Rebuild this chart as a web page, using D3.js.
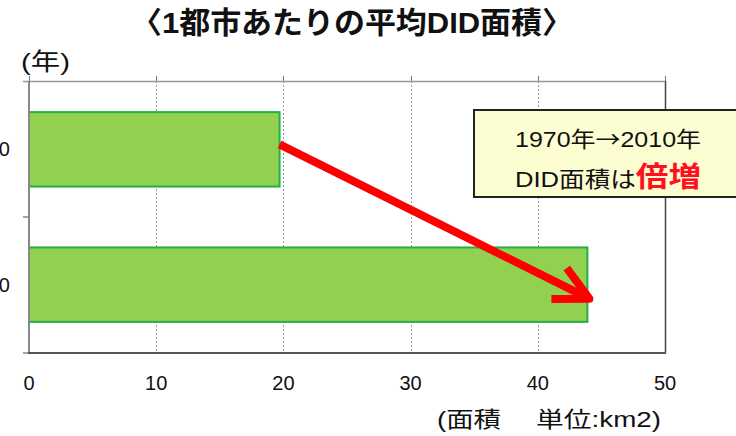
<!DOCTYPE html>
<html>
<head>
<meta charset="utf-8">
<script src="https://cdn.jsdelivr.net/npm/d3@7"></script>
<style>
  html, body { margin: 0; padding: 0; background: #fff; }
  svg { display: block; }
  text { font-family: "Liberation Sans", "Noto Sans CJK JP", sans-serif; fill: #111; }
</style>
</head>
<body>
<svg id="chart" width="736" height="436"></svg>
<script>
// Average DID area per city (km2), by year
const years = ["1970", "2010"];
const areas = [19.7, 43.9];
const xTicks = [0, 10, 20, 30, 40, 50];

const titleText = "〈1都市あたりの平均DID面積〉";
const yUnitText = "(年)";
const xUnitText = ["(面積", "単位:km2)"];
const noteLine1 = ["1970年", "→", "2010年"];
const noteLine2a = "DID面積は";
const noteLine2b = "倍増";

const svg = d3.select("#chart");
const plot = { left: 29, right: 665, top: 81, bottom: 353 };

const x = d3.scaleLinear().domain([0, 50]).range([plot.left, plot.right]);
const y = d3.scaleBand().domain(years).range([plot.top, plot.bottom])
  .paddingInner(0.45).paddingOuter(0.23);

// Title
svg.append("text")
  .attr("x", 352).attr("y", 33)
  .attr("text-anchor", "middle")
  .attr("font-size", 30).attr("font-weight", "bold")
  .attr("textLength", 442).attr("lengthAdjust", "spacingAndGlyphs")
  .text(titleText);

// Year unit label
svg.append("text")
  .attr("x", 21).attr("y", 70)
  .attr("font-size", 24)
  .attr("textLength", 49).attr("lengthAdjust", "spacingAndGlyphs")
  .text(yUnitText);

// Vertical gridlines (dotted), right edge solid
const grid = svg.append("g");
grid.selectAll("line.g")
  .data(xTicks.filter(d => d > 0 && d < 50))
  .join("line")
  .attr("class", "g")
  .attr("x1", d => Math.round(x(d)) + 0.5).attr("x2", d => Math.round(x(d)) + 0.5)
  .attr("y1", plot.top).attr("y2", plot.bottom)
  .attr("stroke", "#9a9a9a").attr("stroke-width", 1)
  .attr("stroke-dasharray", "2,2");
grid.append("line")
  .attr("x1", Math.round(x(50)) + 0.5).attr("x2", Math.round(x(50)) + 0.5)
  .attr("y1", plot.top).attr("y2", plot.bottom)
  .attr("stroke", "#444").attr("stroke-width", 1.5);
// small tick marks above the plot frame
grid.selectAll("line.tt")
  .data(xTicks)
  .join("line")
  .attr("class", "tt")
  .attr("x1", d => Math.round(x(d)) + 0.5).attr("x2", d => Math.round(x(d)) + 0.5)
  .attr("y1", plot.top - 5).attr("y2", plot.top)
  .attr("stroke", "#777").attr("stroke-width", 1);
// top frame line
grid.append("line")
  .attr("x1", plot.left - 6).attr("x2", plot.right)
  .attr("y1", plot.top + 0.5).attr("y2", plot.top + 0.5)
  .attr("stroke", "#999").attr("stroke-width", 1.5);

// Bars
svg.append("g").selectAll("rect")
  .data(years.map((yr, i) => ({ yr, v: areas[i] })))
  .join("rect")
  .attr("x", x(0))
  .attr("y", d => y(d.yr))
  .attr("width", d => x(d.v) - x(0))
  .attr("height", y.bandwidth())
  .attr("fill", "#92d050")
  .attr("stroke", "#1fb04a")
  .attr("stroke-width", 2);

// Y axis (category axis on the left)
const yAxis = svg.append("g");
yAxis.append("line")
  .attr("x1", plot.left).attr("x2", plot.left)
  .attr("y1", plot.top).attr("y2", plot.bottom)
  .attr("stroke", "#888").attr("stroke-width", 2);
const boundaries = [y(years[1]) - (y.step() - y.bandwidth()) / 2, plot.bottom];
yAxis.selectAll("line.t")
  .data(boundaries)
  .join("line")
  .attr("class", "t")
  .attr("x1", plot.left - 6).attr("x2", plot.left)
  .attr("y1", d => d).attr("y2", d => d)
  .attr("stroke", "#888").attr("stroke-width", 1.5);
yAxis.selectAll("text")
  .data(years)
  .join("text")
  .attr("x", 10)
  .attr("y", d => y(d) + y.bandwidth() / 2 + 7)
  .attr("text-anchor", "end")
  .attr("font-size", 20)
  .text(d => d);

// X axis
const xAxis = svg.append("g");
xAxis.append("line")
  .attr("x1", plot.left - 1).attr("x2", plot.right + 1)
  .attr("y1", plot.bottom).attr("y2", plot.bottom)
  .attr("stroke", "#555").attr("stroke-width", 2);
xAxis.selectAll("text")
  .data(xTicks)
  .join("text")
  .attr("x", d => x(d))
  .attr("y", 390)
  .attr("text-anchor", "middle")
  .attr("font-size", 20)
  .text(d => d);

// X unit label, two parts with a wide gap
const xu = svg.append("g").attr("font-size", 22);
xu.append("text")
  .attr("x", 437).attr("y", 427)
  .attr("textLength", 64).attr("lengthAdjust", "spacingAndGlyphs")
  .text(xUnitText[0]);
xu.append("text")
  .attr("x", 536).attr("y", 427)
  .attr("textLength", 125).attr("lengthAdjust", "spacingAndGlyphs")
  .text(xUnitText[1]);

// Red arrow from the 1970 bar end to the 2010 bar end
const x0 = x(areas[0]), y0 = y(years[0]) + y.bandwidth() / 2 - 5;
const x1 = x(areas[1]) + 2, y1 = y(years[1]) + y.bandwidth() / 2 + 14;
const ang = Math.atan2(y1 - y0, x1 - x0);
const head = 38, spread = 0.47;
const arrow = svg.append("g")
  .attr("fill", "none").attr("stroke", "#ff0000")
  .attr("stroke-width", 8).attr("stroke-linecap", "butt").attr("stroke-linejoin", "round");
arrow.append("line")
  .attr("x1", x0).attr("y1", y0).attr("x2", x1 - 3 * Math.cos(ang)).attr("y2", y1 - 3 * Math.sin(ang));
arrow.append("path")
  .attr("d", d3.line()([
    [x1 - head * Math.cos(ang - spread), y1 - head * Math.sin(ang - spread)],
    [x1, y1],
    [x1 - head * Math.cos(ang + spread), y1 - head * Math.sin(ang + spread)]
  ]));

// Annotation box
const note = svg.append("g");
note.append("rect")
  .attr("x", 474).attr("y", 110)
  .attr("width", 270).attr("height", 87)
  .attr("fill", "#fdfdd2")
  .attr("stroke", "#222").attr("stroke-width", 2);
const l1 = note.append("text")
  .attr("x", 515).attr("y", 147)
  .attr("font-size", 22)
  .attr("textLength", 186).attr("lengthAdjust", "spacingAndGlyphs");
l1.append("tspan").text(noteLine1[0]);
l1.append("tspan").style("font-family", "'Noto Sans CJK JP', sans-serif").text(noteLine1[1]);
l1.append("tspan").text(noteLine1[2]);
const l2 = note.append("text")
  .attr("x", 515).attr("y", 187)
  .attr("font-size", 22)
  .attr("textLength", 186).attr("lengthAdjust", "spacingAndGlyphs");
l2.append("tspan").text(noteLine2a);
l2.append("tspan")
  .attr("font-size", 28).attr("font-weight", "bold")
  .style("fill", "#ff1020")
  .text(noteLine2b);
</script>
</body>
</html>
